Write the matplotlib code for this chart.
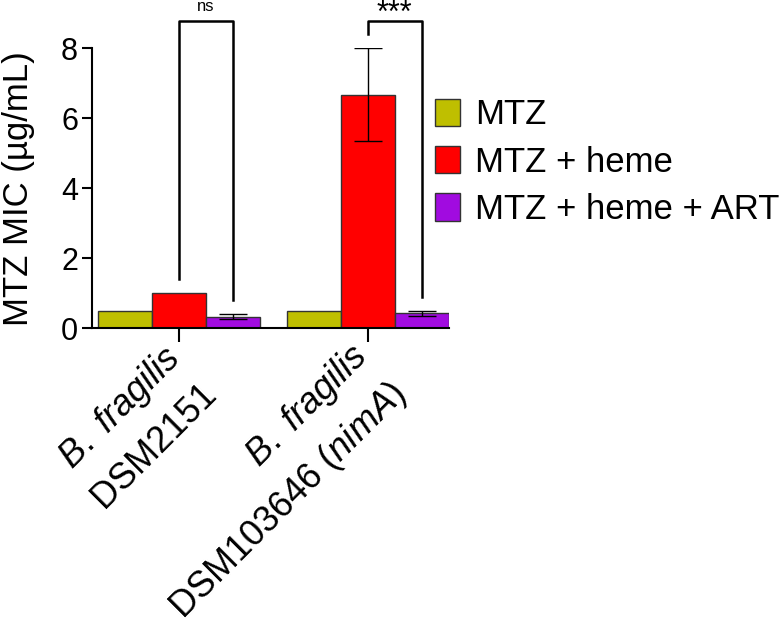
import numpy as np
import matplotlib
matplotlib.use("Agg")
import matplotlib.pyplot as plt
import matplotlib.transforms as mtransforms

plt.rcParams["font.family"] = ["Liberation Sans", "DejaVu Sans"]
plt.rcParams["mathtext.fontset"] = "custom"
plt.rcParams["mathtext.rm"] = "Liberation Sans"
plt.rcParams["mathtext.it"] = "Liberation Sans:italic"

# data
strains = ["$\\mathit{B.\\ fragilis}$\nDSM2151",
           "$\\mathit{B.\\ fragilis}$\nDSM103646 ($\\mathit{nimA}$)"]
treatments = ["MTZ", "MTZ + heme", "MTZ + heme + ART"]
colors = ["#BFBF00", "#FF0000", "#A10BE0"]
mic_mean = [[0.5, 0.5],
            [1.0, 6.67],
            [0.33, 0.42]]
mic_err = [[0.0, 0.0],
           [0.0, 1.33],
           [0.08, 0.08]]
sig_labels = ["ns", "***"]

fig = plt.figure(figsize=(7.82, 6.19), dpi=100)
ax = fig.add_axes([0.1176, 0.470, 0.4565, 0.452])

x = np.arange(len(strains))
width = 0.286
for i, t in enumerate(treatments):
    pos = x + (i - 1) * width
    ax.bar(pos, mic_mean[i], width, color=colors[i], edgecolor="#333333",
           linewidth=1.0, label=t, zorder=2)
    err = np.array(mic_err[i])
    has = err > 0
    ax.errorbar(pos[has], np.array(mic_mean[i])[has], yerr=err[has], fmt="none",
                ecolor="black", elinewidth=1.0, capsize=10, capthick=1.0, zorder=3)

# significance brackets (heme vs heme + ART)
top = 8.77
left_low = [1.4, 8.4]
right_low = [0.8, 0.89]
sig_y = [9.08, 8.75]
sig_size = [12, 22]
for g in range(len(strains)):
    x1, x2 = x[g], x[g] + width
    ax.plot([x1, x1, x2, x2], [left_low[g], top, top, right_low[g]],
            color="black", lw=1.8, clip_on=False, zorder=4)
    ax.text((x1 + x2) / 2, sig_y[g], sig_labels[g], ha="center", va="baseline",
            fontsize=sig_size[g], clip_on=False)

ax.set_xlim(-0.46, 1.43)
ax.set_ylim(0, 8)
ax.set_yticks([0, 2, 4, 6, 8])
ax.set_xticks(x)
ax.set_xticklabels([])
# rotated two-line strain labels, placed below each tick
lab_tr = ax.get_xaxis_transform() + mtransforms.ScaledTranslation(0.14, -0.42, fig.dpi_scale_trans)
for g, s in enumerate(strains):
    ax.text(x[g], 0, s, transform=lab_tr, rotation=45, ha="right", va="center",
            rotation_mode="anchor", fontsize=26, ma="right", linespacing=1.5)
ax.tick_params(axis="y", labelsize=22, width=1.5, length=7, pad=3)
ax.tick_params(axis="x", width=1.5, length=10)
ax.spines["top"].set_visible(False)
ax.spines["right"].set_visible(False)
ax.spines["left"].set_linewidth(1.5)
ax.spines["bottom"].set_linewidth(1.5)
ax.set_ylabel("MTZ MIC (µg/mL)", fontsize=25, labelpad=19)

fig.legend(loc="center left", bbox_to_anchor=(0.556, 0.738), frameon=False,
           fontsize=25, handlelength=0.72, handleheight=0.84, handletextpad=0.45,
           labelspacing=0.41, borderpad=0, borderaxespad=0)

fig.savefig("out.png", dpi=100)
